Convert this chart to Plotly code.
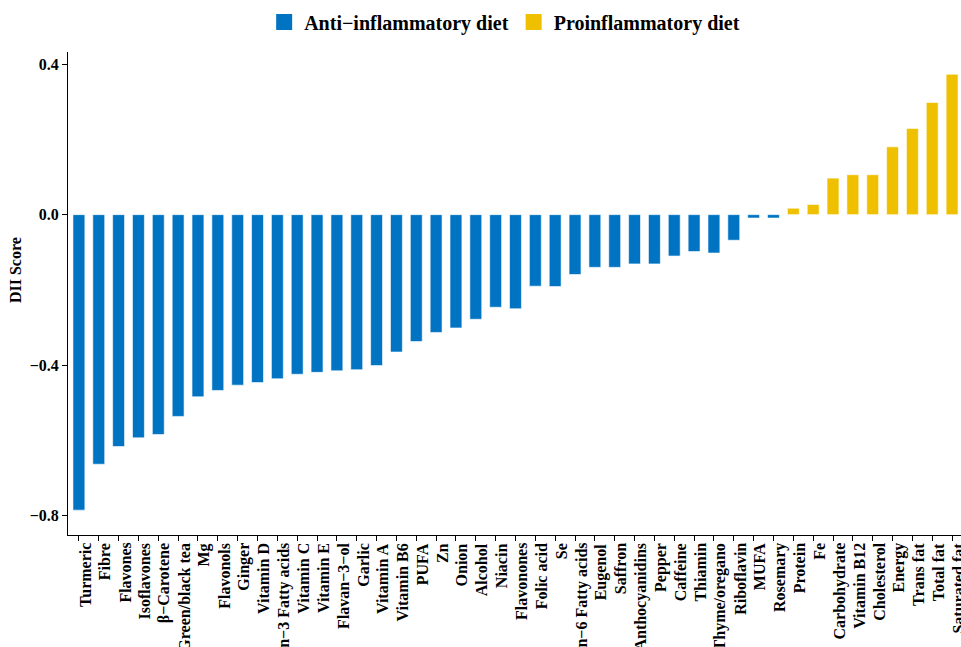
import plotly.graph_objects as go

categories = ["Turmeric", "Fibre", "Flavones", "Isoflavones", "β−Carotene", "Green/black tea", "Mg",
              "Flavonols", "Ginger", "Vitamin D", "n−3 Fatty acids", "Vitamin C", "Vitamin E",
              "Flavan−3−ol", "Garlic", "Vitamin A", "Vitamin B6", "PUFA", "Zn", "Onion", "Alcohol",
              "Niacin", "Flavonones", "Folic acid", "Se", "n−6 Fatty acids", "Eugenol", "Saffron",
              "Anthocyanidins", "Pepper", "Caffeine", "Thiamin", "Thyme/oregano", "Riboflavin",
              "MUFA", "Rosemary", "Protein", "Fe", "Carbohydrate", "Vitamin B12", "Cholesterol",
              "Energy", "Trans fat", "Total fat", "Saturated fat"]
scores = [-0.785, -0.663, -0.616, -0.593, -0.584, -0.536, -0.484, -0.467, -0.453, -0.446,
          -0.436, -0.424, -0.419, -0.415, -0.412, -0.401, -0.365, -0.337, -0.313, -0.301,
          -0.278, -0.246, -0.250, -0.190, -0.191, -0.159, -0.140, -0.140, -0.131, -0.131,
          -0.110, -0.098, -0.102, -0.068, -0.009, -0.009, 0.017, 0.027, 0.097, 0.106, 0.106,
          0.180, 0.229, 0.298, 0.373]
group_names = ["Anti−inflammatory diet", "Proinflammatory diet"]
group_colors = ["#0073C2", "#EFC000"]
y_ticks = [-0.8, -0.4, 0.0, 0.4]
y_tick_labels = ["−0.8", "−0.4", "0.0", "0.4"]
y_title = "DII Score"

anti_x = [c for c, v in zip(categories, scores) if v < 0]
anti_y = [v for v in scores if v < 0]
pro_x = [c for c, v in zip(categories, scores) if v >= 0]
pro_y = [v for v in scores if v >= 0]

font_family = "Liberation Serif"

fig = go.Figure()
for name, color, xs, ys in [(group_names[0], group_colors[0], anti_x, anti_y),
                            (group_names[1], group_colors[1], pro_x, pro_y)]:
    fig.add_trace(go.Bar(x=xs, y=ys, name=name, width=0.6, showlegend=False,
                         marker=dict(color=color, line=dict(color="white", width=0.6))))
# legend keys (square swatches, no data)
for name, color in zip(group_names, group_colors):
    fig.add_trace(go.Scatter(x=[None], y=[None], mode="markers", name="<b>" + name + "</b>",
                             marker=dict(symbol="square", size=24, color=color)))

annotations = [dict(text="<b>" + y_title + "</b>", xref="paper", yref="paper",
                    x=-0.058, y=0.549, xanchor="center", yanchor="middle", textangle=-90,
                    showarrow=False, font=dict(family=font_family, size=16, color="black"))]
# category tick labels (rotated, slightly right of each tick as in the reference)
for c in categories:
    annotations.append(dict(text="<b>" + c + "</b>", x=c, xref="x", y=0, yref="paper",
                            xanchor="center", yanchor="top", textangle=-90, showarrow=False,
                            xshift=6, yshift=-7, borderpad=0,
                            font=dict(family=font_family, size=16, color="black")))

fig.update_layout(
    width=961, height=647,
    margin=dict(l=68, r=0, t=52, b=112, autoexpand=False),
    plot_bgcolor="white", paper_bgcolor="white",
    barmode="overlay",
    font=dict(family=font_family, color="black"),
    legend=dict(orientation="h", x=0.489, xanchor="center", y=1.062, yanchor="middle",
                font=dict(family=font_family, size=20, color="black"),
                itemwidth=30, traceorder="normal"),
    xaxis=dict(type="category", categoryorder="array", categoryarray=categories,
               range=[-0.55, 44.45], showticklabels=False, automargin=False,
               ticks="outside", ticklen=5, tickcolor="black",
               showline=True, linecolor="black", linewidth=1, showgrid=False),
    yaxis=dict(range=[-0.851, 0.432], tickvals=y_ticks,
               ticktext=["<b>" + t + "</b>" for t in y_tick_labels],
               ticks="outside", ticklen=5, tickcolor="black",
               showline=True, linecolor="black", linewidth=1, showgrid=False, zeroline=False,
               automargin=False,
               tickfont=dict(family=font_family, size=16, color="black")),
    annotations=annotations,
)

fig.write_html("out.html", config={"displayModeBar": False},
               post_script="document.body.style.margin='0';document.body.style.overflow='hidden';")
